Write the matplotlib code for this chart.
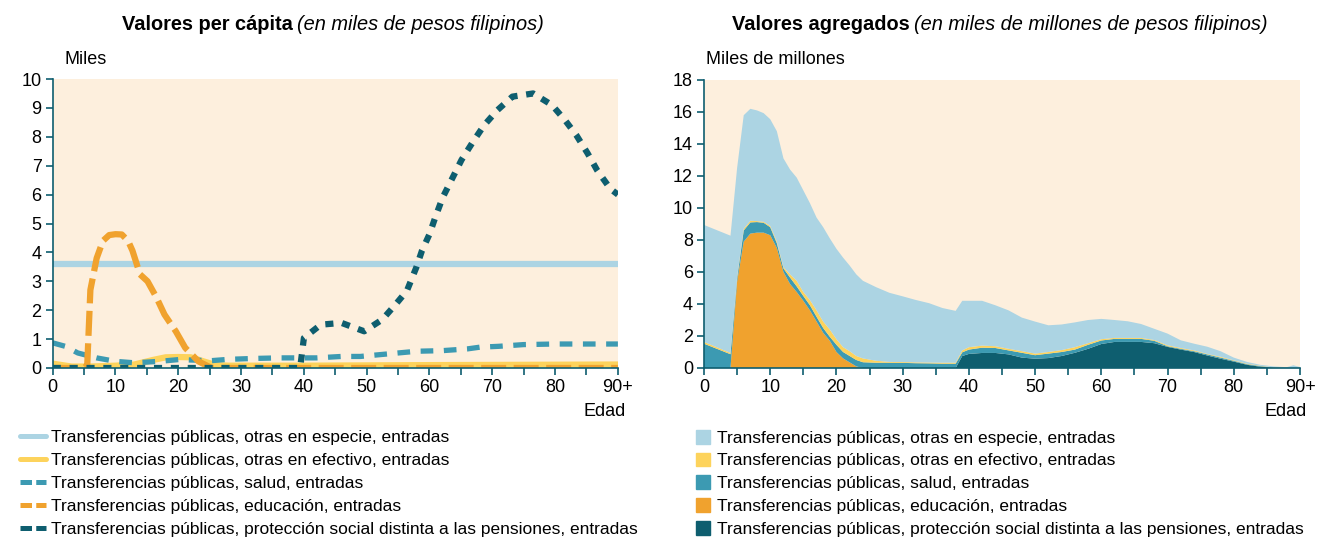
import matplotlib
matplotlib.use('Agg')
from matplotlib import pyplot as plt
from matplotlib.patches import Patch
from matplotlib.lines import Line2D

plt.rcParams['font.family'] = ['Liberation Sans', 'DejaVu Sans']
plt.rcParams['font.size'] = 12

# colours
c_esp = '#acd4e3'
c_efe = '#fdd35c'
c_sal = '#3c9ab2'
c_edu = '#f0a22e'
c_pro = '#0e5e6f'
bg = '#fdefdd'

labels = ['Transferencias públicas, otras en especie, entradas',
          'Transferencias públicas, otras en efectivo, entradas',
          'Transferencias públicas, salud, entradas',
          'Transferencias públicas, educación, entradas',
          'Transferencias públicas, protección social distinta a las pensiones, entradas']

# ---- per capita (miles)
age_esp = [0, 90]
pc_esp = [3.6, 3.6]

age_efe = [0, 3, 6, 10, 13, 16, 18, 20, 22, 24, 26, 28, 40, 60, 90]
pc_efe = [0.15, 0.05, 0.05, 0.08, 0.12, 0.28, 0.37, 0.38, 0.37, 0.23, 0.1, 0.08, 0.08, 0.1, 0.12]

age_sal = [0, 2, 4, 7, 10, 13, 17, 20, 23, 25, 28, 32, 36, 42, 46, 49, 52, 55, 58, 62, 66, 68, 71, 75, 80, 90]
pc_sal = [0.87, 0.75, 0.52, 0.35, 0.23, 0.18, 0.23, 0.29, 0.27, 0.25, 0.3, 0.33, 0.35, 0.35, 0.4, 0.4,
          0.46, 0.52, 0.58, 0.6, 0.66, 0.72, 0.75, 0.81, 0.83, 0.83]

age_edu = [0, 5, 5.5, 6, 7, 8, 9, 10, 11, 12, 12.7, 13.9, 15.1, 16.5, 17.8, 19.6, 21.1, 23.2, 25.3, 90]
pc_edu = [0, 0, 0.1, 2.7, 3.8, 4.4, 4.6, 4.63, 4.62, 4.4, 4.06, 3.24, 3.0, 2.45, 1.85, 1.27, 0.7, 0.23, 0, 0]

age_pro = [0, 39.4, 40, 42.7, 46, 49.6, 52.5, 54.6, 56.4, 57.9, 58.8, 60, 60.9, 62.1, 63.6, 65.1, 66.9,
           68.7, 70.8, 73.2, 76.5, 79.5, 81.6, 83.4, 85.2, 86.7, 88.8, 90]
pc_pro = [0, 0, 1.04, 1.5, 1.56, 1.27, 1.68, 2.2, 2.67, 3.48, 4.06, 4.63, 5.2, 5.9, 6.55, 7.2, 7.82,
          8.4, 8.92, 9.39, 9.5, 9.1, 8.57, 8.05, 7.42, 6.84, 6.2, 6.0]

# ---- aggregate (miles de millones)
age_ag = [0, 4, 5, 6, 7, 8, 9, 10, 11, 12, 13, 14, 15, 16, 17, 18, 19, 20, 21, 22, 23, 24, 26, 28, 30,
          32, 34, 36, 38, 39, 40, 42, 44, 46, 48, 50, 52, 54, 56, 58, 60, 62, 64, 66, 68, 70, 72, 74,
          76, 78, 80, 82, 84, 86, 88, 89, 90]
ag_pro = [0, 0, 0, 0, 0, 0, 0, 0, 0, 0, 0, 0, 0, 0, 0, 0, 0, 0, 0, 0, 0, 0, 0, 0, 0,
          0, 0, 0, 0, 0.75, 0.88, 0.94, 0.94, 0.85, 0.65, 0.58, 0.62, 0.75, 0.95, 1.2, 1.5, 1.63, 1.63, 1.63,
          1.55, 1.32, 1.15, 1.0, 0.78, 0.58, 0.4, 0.2, 0.08, 0.02, 0, 0, 0]
ag_edu = [0, 0, 5.4, 7.9, 8.4, 8.46, 8.46, 8.3, 7.5, 6.0, 5.25, 4.75, 4.2, 3.6, 2.9, 2.2, 1.7, 1.0, 0.6,
          0.35, 0.1, 0, 0, 0, 0, 0, 0, 0, 0, 0, 0, 0, 0, 0, 0, 0, 0, 0, 0, 0, 0, 0, 0, 0, 0, 0, 0, 0,
          0, 0, 0, 0, 0, 0, 0, 0, 0]
ag_sal = [1.52, 0.86, 0.2, 0.7, 0.7, 0.66, 0.62, 0.5, 0.3, 0.22, 0.4, 0.35, 0.3, 0.32, 0.3, 0.3, 0.25,
          0.45, 0.4, 0.4, 0.4, 0.36, 0.33, 0.33, 0.32, 0.3, 0.29, 0.27, 0.27, 0.23, 0.27, 0.33, 0.31,
          0.25, 0.3, 0.22, 0.28, 0.25, 0.2, 0.25, 0.22, 0.19, 0.19, 0.19, 0.15, 0.04, 0.05, 0.05, 0.07,
          0.07, 0.05, 0.04, 0.04, 0.01, 0, 0, 0]
ag_efe = [0.11, 0.08, 0.1, 0.1, 0.1, 0.06, 0.06, 0.08, 0.1, 0.08, 0.2, 0.35, 0.25, 0.32, 0.4, 0.4, 0.45,
          0.35, 0.3, 0.3, 0.25, 0.24, 0.12, 0.05, 0.05, 0.05, 0.05, 0.06, 0.06, 0.12, 0.15, 0.13, 0.11,
          0.1, 0.1, 0.1, 0.1, 0.12, 0.15, 0.1, 0.08, 0.06, 0.06, 0.06, 0.05, 0.06, 0.05, 0.05, 0.03,
          0.05, 0.03, 0.03, 0.02, 0.01, 0, 0, 0]
ag_esp = [7.31, 7.33, 6.8, 7.1, 7.0, 6.92, 6.79, 6.67, 6.9, 6.8, 6.55, 6.45, 6.35, 6.06, 5.8, 5.9, 5.7,
          5.65, 5.6, 5.35, 5.1, 4.85, 4.6, 4.32, 4.11, 3.9, 3.71, 3.42, 3.24, 3.1, 2.9, 2.8, 2.56, 2.4,
          2.1, 2.0, 1.67, 1.6, 1.55, 1.45, 1.27, 1.12, 1.04, 0.87, 0.7, 0.73, 0.48, 0.42, 0.45, 0.35,
          0.17, 0.11, 0.06, 0.06, 0.05, 0.17, 0.06]

W, H = 1317, 539
fig = plt.figure(figsize=(W / 100, H / 100), dpi=100)
ax1 = fig.add_axes([52.7 / W, 1 - 368 / H, (617.9 - 52.7) / W, (368 - 79) / H])
ax2 = fig.add_axes([704 / W, 1 - 368 / H, (1300 - 704) / W, (368 - 80) / H])

for ax in (ax1, ax2):
    ax.set_facecolor(bg)
    ax.set_xlim(0, 90)
    ax.set_xticks(range(0, 91, 5))
    ax.set_xticklabels([str(v) if v % 10 == 0 else '' for v in range(0, 90, 5)] + ['90+'])
    for s in ('top', 'right'):
        ax.spines[s].set_visible(False)
    for s in ('left', 'bottom'):
        ax.spines[s].set_color(c_pro)
        ax.spines[s].set_linewidth(1.2)
    ax.tick_params(color=c_pro, length=5, width=1.2, labelsize=13, pad=3)

# left chart
ax1.plot(age_esp, pc_esp, color=c_esp, lw=4.5, solid_capstyle='round')
ax1.plot(age_efe, pc_efe, color=c_efe, lw=4.5, solid_capstyle='round')
ax1.plot(age_sal, pc_sal, color=c_sal, lw=3.8, dashes=(2.4, 2))
ax1.plot(age_edu, pc_edu, color=c_edu, lw=4.5, dashes=(4, 1.2))
ax1.plot(age_pro, pc_pro, color=c_pro, lw=4.5, dashes=(1.3, 1.4))
ax1.set_ylim(0, 10)
ax1.set_yticks(range(0, 11))

line_handles = [
    Line2D([], [], color=c_esp, lw=3.6, solid_capstyle='round'),
    Line2D([], [], color=c_efe, lw=3.6, solid_capstyle='round'),
    Line2D([], [], color=c_sal, lw=3.6, dashes=(2.3, 0.85)),
    Line2D([], [], color=c_edu, lw=3.6, dashes=(2.3, 0.85)),
    Line2D([], [], color=c_pro, lw=3.6, dashes=(2.3, 0.85)),
]
ax1.legend(line_handles, labels, loc='upper left', bbox_to_anchor=(11 / W, 1 - 421 / H),
           bbox_transform=fig.transFigure, frameon=False, handlelength=1.5, handletextpad=0.3,
           labelspacing=0.46, borderpad=0, fontsize=12.5)

# right chart
ax2.stackplot(age_ag, ag_pro, ag_edu, ag_sal, ag_efe, ag_esp,
              colors=[c_pro, c_edu, c_sal, c_efe, c_esp], lw=0)
ax2.set_ylim(0, 18)
ax2.set_yticks(range(0, 19, 2))
handles = [Patch(color=c) for c in (c_esp, c_efe, c_sal, c_edu, c_pro)]
ax2.legend(handles, labels, loc='upper left', bbox_to_anchor=(687 / W, 1 - 421 / H),
           bbox_transform=fig.transFigure, frameon=False, handlelength=0.85, handleheight=0.85,
           handletextpad=0.35, labelspacing=0.4, borderpad=0, fontsize=12.5)

# axis captions
fig.text(65 / W, 1 - 60 / H, 'Miles', fontsize=13, va='center')
fig.text(706 / W, 1 - 60 / H, 'Miles de millones', fontsize=13, va='center')
fig.text(626 / W, 1 - 411 / H, 'Edad', fontsize=13, va='center', ha='right')
fig.text(1307 / W, 1 - 411 / H, 'Edad', fontsize=13, va='center', ha='right')

# titles: bold part + italic part, centred
renderer = fig.canvas.get_renderer()


def title(cx, bold, ital):
    y = 1 - 25 / H
    t1 = fig.text(0, y, bold, fontsize=14.4, fontweight='bold', va='center')
    t2 = fig.text(0, y, ital, fontsize=14.4, style='italic', va='center')
    w1 = t1.get_window_extent(renderer).width
    w2 = t2.get_window_extent(renderer).width
    gap = 4
    x0 = cx - (w1 + gap + w2) / 2
    t1.set_x(x0 / W)
    t2.set_x((x0 + w1 + gap) / W)


title(333, 'Valores per cápita', '(en miles de pesos filipinos)')
title(1000, 'Valores agregados', '(en miles de millones de pesos filipinos)')

fig.savefig('out.png', dpi=100)
